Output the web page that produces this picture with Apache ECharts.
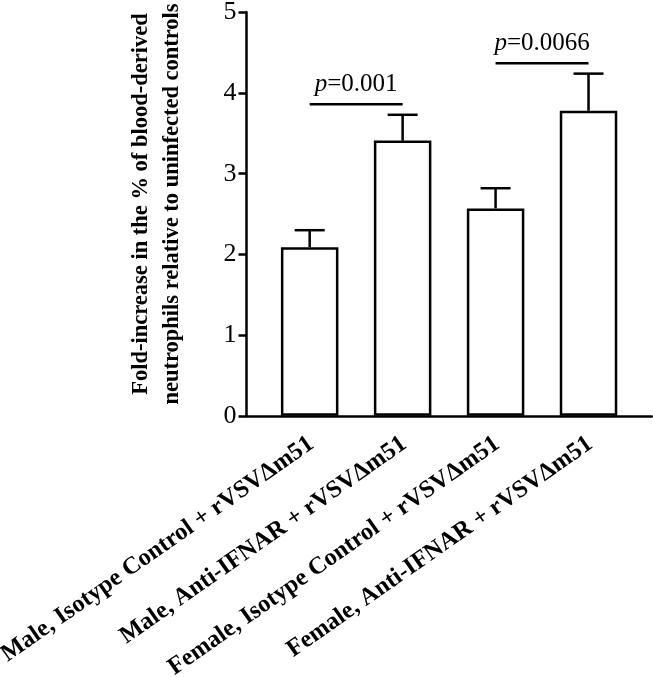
<!DOCTYPE html>
<html><head><meta charset="utf-8">
<script src="https://cdn.jsdelivr.net/npm/echarts@6/dist/echarts.min.js"></script>
<style>html,body{margin:0;padding:0;background:#fff}#c{width:653px;height:677px}</style>
</head><body><div id="c"></div>
<script>
const categories = ['Male, Isotype Control + rVSVΔm51', 'Male, Anti-IFNAR + rVSVΔm51', 'Female, Isotype Control + rVSVΔm51', 'Female, Anti-IFNAR + rVSVΔm51'];
const means = [2.09, 3.41, 2.57, 3.78];
const sems = [0.21, 0.32, 0.25, 0.46];
const yMin = 0, yMax = 5, yStep = 1;
const compFrom = [0, 2];
const compTo = [1, 3];
const compY = [3.86, 4.37];
const compP = ['0.001', '0.0066'];
const yTitle = ['Fold-increase in the % of blood-derived', 'neutrophils relative to uninfected controls'];

const FONT = '"Liberation Serif", "Times New Roman", serif';
const LW = 2.5;
const chart = echarts.init(document.getElementById('c'), null, {renderer: 'canvas'});
const option = {
  animation: false,
  backgroundColor: '#fff',
  grid: [
    {left: 263.2, right: 18, top: 12.3, bottom: 261.2, containLabel: false, outerBoundsMode: 'none'},
    {left: 246.5, right: 1.3, top: 12.3, bottom: 261.2, containLabel: false, outerBoundsMode: 'none'}
  ],
  xAxis: [
    {type: 'category', gridIndex: 0, data: categories,
      axisLine: {show: false}, axisTick: {show: false}, splitLine: {show: false},
      axisLabel: {interval: 0, rotate: 35, margin: 27, padding: [0, -2, 0, 0], color: '#000',
        fontFamily: FONT, fontWeight: 'bold', fontSize: 24.5}},
    {type: 'value', gridIndex: 1, min: 0, max: 1,
      axisLine: {show: true, lineStyle: {color: '#000', width: LW}},
      axisTick: {show: false}, axisLabel: {show: false}, splitLine: {show: false}}
  ],
  yAxis: [
    {type: 'value', gridIndex: 0, min: yMin, max: yMax, interval: yStep, show: false, splitLine: {show: false}},
    {type: 'value', gridIndex: 1, min: yMin, max: yMax, interval: yStep,
      axisLine: {show: true, lineStyle: {color: '#000', width: LW}},
      axisTick: {show: true, length: 8, lineStyle: {color: '#000', width: LW}},
      axisLabel: {margin: 10, color: '#000', fontFamily: FONT, fontSize: 26},
      splitLine: {show: false}}
  ],
  series: [
    {type: 'bar', xAxisIndex: 0, yAxisIndex: 0, data: means, barWidth: 57.5, z: 3,
      itemStyle: {color: '#fff', borderColor: '#000', borderWidth: LW}},
    {type: 'custom', xAxisIndex: 0, yAxisIndex: 0, z: 2,
      data: means.map((m, i) => [i, m, m + sems[i]]),
      encode: {x: 0, y: [1, 2]},
      renderItem: function (params, api) {
        const p0 = api.coord([api.value(0), api.value(1)]);
        const p1 = api.coord([api.value(0), api.value(2)]);
        const half = api.size([1, 0])[0] * 0.1614;
        return {type: 'group', children: [
          {type: 'line', shape: {x1: p0[0], y1: p0[1], x2: p1[0], y2: p1[1]}, style: {stroke: '#000', lineWidth: LW}},
          {type: 'line', shape: {x1: p1[0] - half, y1: p1[1], x2: p1[0] + half, y2: p1[1]}, style: {stroke: '#000', lineWidth: LW}}
        ]};
      }},
    {type: 'custom', xAxisIndex: 0, yAxisIndex: 0, z: 4,
      data: compFrom.map((f, i) => [f, compTo[i], compY[i], i]),
      encode: {x: [0, 1], y: 2},
      renderItem: function (params, api) {
        const a = api.coord([api.value(0), api.value(2)]);
        const b = api.coord([api.value(1), api.value(2)]);
        const idx = api.value(3);
        return {type: 'group', children: [
          {type: 'line', shape: {x1: a[0], y1: a[1], x2: b[0], y2: b[1]}, style: {stroke: '#000', lineWidth: LW}},
          {type: 'text', x: (a[0] + b[0]) / 2, y: a[1] - 7,
            style: {text: '{i|p}=' + compP[idx], fill: '#000', fontFamily: FONT, fontSize: 25,
              align: 'center', verticalAlign: 'bottom',
              rich: {i: {fontStyle: 'italic', fontFamily: FONT, fontSize: 25, fill: '#000'}}}}
        ]};
      }}
  ],
  graphic: [
    {type: 'text', x: 157, y: 204, rotation: Math.PI / 2,
      style: {text: yTitle.join('\n'), fill: '#000', fontFamily: FONT, fontWeight: 'bold', fontSize: 22.5,
        lineHeight: 31, align: 'center', verticalAlign: 'middle'}}
  ]
};
chart.setOption(option);
</script>
</body></html>
